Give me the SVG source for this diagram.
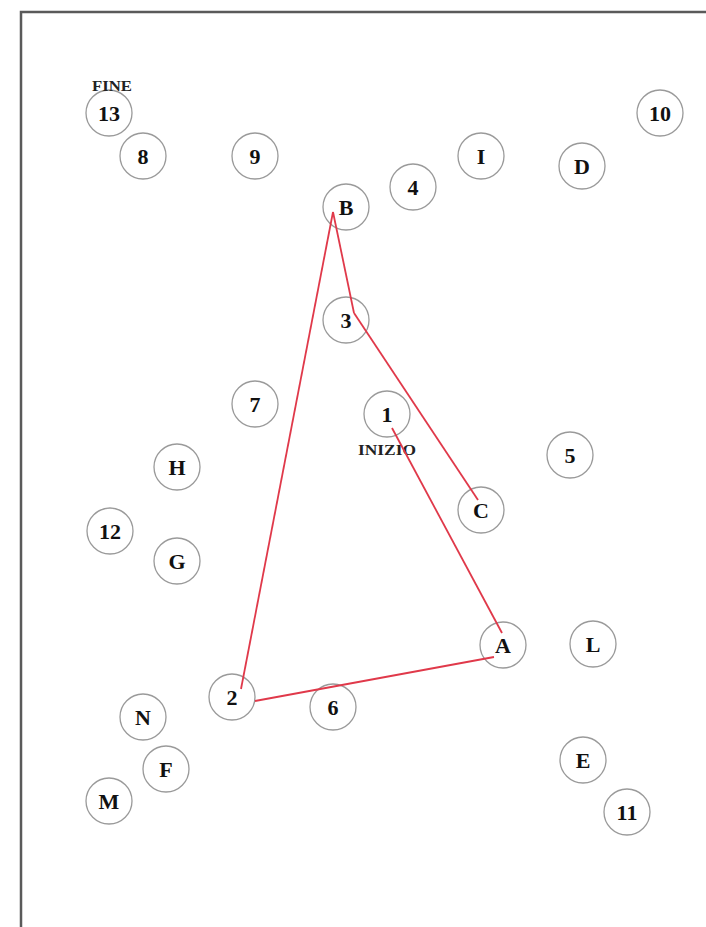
<svg xmlns="http://www.w3.org/2000/svg" width="706" height="927" viewBox="0 0 706 927">
<style>
.n circle{fill:#fff;stroke:#9a9a9a;stroke-width:1.3}
.n text{font-family:"Liberation Serif",serif;font-weight:bold;font-size:22px;fill:#111;text-anchor:middle;dominant-baseline:central}
.lbl{font-family:"Liberation Serif",serif;font-weight:bold;font-size:14px;fill:#222;text-anchor:middle}
.e{stroke:#e0394a;stroke-width:1.8;fill:none}
</style>
<rect x="0" y="0" width="706" height="927" fill="#fff"/>
<path d="M21 927 V12 H706" fill="none" stroke="#5a5a5a" stroke-width="2.5"/>
<g id="n13" class="n"><circle cx="109" cy="113" r="23"/><text x="109" y="113">13</text></g>
<text class="lbl" x="112" y="91" textLength="40" lengthAdjust="spacingAndGlyphs">FINE</text>
<g id="n8" class="n"><circle cx="143" cy="156" r="23"/><text x="143" y="156">8</text></g>
<g id="n9" class="n"><circle cx="255" cy="156" r="23"/><text x="255" y="156">9</text></g>
<g id="nB" class="n"><circle cx="346" cy="207" r="23"/><text x="346" y="207">B</text></g>
<g id="n4" class="n"><circle cx="413" cy="187" r="23"/><text x="413" y="187">4</text></g>
<g id="nI" class="n"><circle cx="481" cy="156" r="23"/><text x="481" y="156">I</text></g>
<g id="nD" class="n"><circle cx="582" cy="166" r="23"/><text x="582" y="166">D</text></g>
<g id="n10" class="n"><circle cx="660" cy="113" r="23"/><text x="660" y="113">10</text></g>
<g id="n3" class="n"><circle cx="346" cy="320" r="23"/><text x="346" y="320">3</text></g>
<g id="n7" class="n"><circle cx="255" cy="404" r="23"/><text x="255" y="404">7</text></g>
<g id="n1" class="n"><circle cx="387" cy="414" r="23"/><text x="387" y="414">1</text></g>
<text class="lbl" x="387" y="455" textLength="58" lengthAdjust="spacingAndGlyphs">INIZIO</text>
<g id="n5" class="n"><circle cx="570" cy="455" r="23"/><text x="570" y="455">5</text></g>
<g id="nH" class="n"><circle cx="177" cy="467" r="23"/><text x="177" y="467">H</text></g>
<g id="nC" class="n"><circle cx="481" cy="510" r="23"/><text x="481" y="510">C</text></g>
<g id="n12" class="n"><circle cx="110" cy="531" r="23"/><text x="110" y="531">12</text></g>
<g id="nG" class="n"><circle cx="177" cy="561" r="23"/><text x="177" y="561">G</text></g>
<g id="nA" class="n"><circle cx="503" cy="645" r="23"/><text x="503" y="645">A</text></g>
<g id="nL" class="n"><circle cx="593" cy="644" r="23"/><text x="593" y="644">L</text></g>
<g id="n2" class="n"><circle cx="232" cy="697" r="23"/><text x="232" y="697">2</text></g>
<g id="n6" class="n"><circle cx="333" cy="707" r="23"/><text x="333" y="707">6</text></g>
<g id="nN" class="n"><circle cx="143" cy="717" r="23"/><text x="143" y="717">N</text></g>
<g id="nF" class="n"><circle cx="166" cy="769" r="23"/><text x="166" y="769">F</text></g>
<g id="nM" class="n"><circle cx="109" cy="801" r="23"/><text x="109" y="801">M</text></g>
<g id="nE" class="n"><circle cx="583" cy="760" r="23"/><text x="583" y="760">E</text></g>
<g id="n11" class="n"><circle cx="627" cy="812" r="23"/><text x="627" y="812">11</text></g>
<g id="connectors">
<path class="e" d="M392 428 L502 633"/>
<path class="e" d="M494 657 L255 701"/>
<path class="e" d="M241 689 L333 212"/>
<path class="e" d="M333 212 L354 313"/>
<path class="e" d="M354 313 L478 500"/>
</g>
</svg>
